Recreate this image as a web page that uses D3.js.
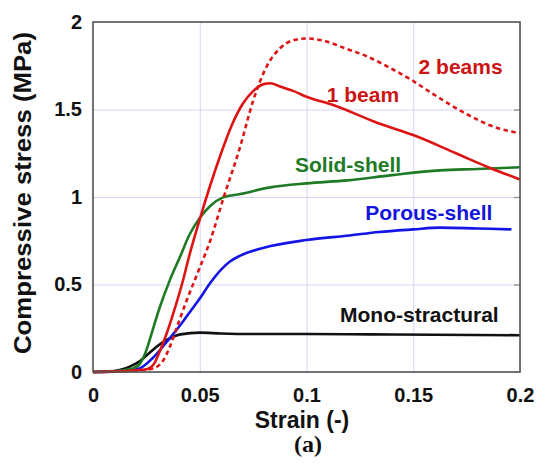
<!DOCTYPE html>
<html>
<head>
<meta charset="utf-8">
<script src="https://cdn.jsdelivr.net/npm/d3@7"></script>
<style>
  body { margin: 0; background: #fff; }
  svg { display: block; }
</style>
</head>
<body>
<svg id="plotCanvas" width="536" height="463"></svg>
<script>
// strain / stress readings for each curve
var monoStrain  = [0, 0.01, 0.0142, 0.018, 0.022, 0.025, 0.028, 0.0345, 0.041, 0.05, 0.06, 0.075, 0.1, 0.13, 0.16, 0.2];
var monoStress  = [0, 0.006, 0.017, 0.035, 0.062, 0.094, 0.126, 0.183, 0.215, 0.225, 0.22, 0.217, 0.217, 0.215, 0.213, 0.21];

var solidStrain = [0, 0.01, 0.017, 0.019, 0.0205, 0.022, 0.0235, 0.025, 0.0267, 0.031, 0.036, 0.041, 0.045, 0.05, 0.055, 0.061, 0.069, 0.083, 0.1, 0.119, 0.14, 0.1625, 0.18, 0.2];
var solidStress = [0, 0.004, 0.015, 0.022, 0.032, 0.048, 0.08, 0.125, 0.19, 0.36, 0.525, 0.665, 0.78, 0.88, 0.95, 0.998, 1.017, 1.055, 1.078, 1.095, 1.125, 1.152, 1.16, 1.17];

var porousStrain = [0, 0.01, 0.017, 0.022, 0.028, 0.036, 0.041, 0.044, 0.05, 0.055, 0.06, 0.064, 0.069, 0.08, 0.1, 0.12, 0.134, 0.15, 0.1625, 0.18, 0.196];
var porousStress = [0, 0.003, 0.012, 0.022, 0.08, 0.194, 0.27, 0.32, 0.42, 0.51, 0.585, 0.63, 0.665, 0.71, 0.754, 0.78, 0.80, 0.815, 0.825, 0.82, 0.815];

var beam1Strain = [0, 0.01, 0.02, 0.025, 0.0267, 0.028, 0.029, 0.031, 0.0345, 0.0376, 0.0423, 0.045, 0.05, 0.055, 0.06, 0.065, 0.07, 0.075, 0.08, 0.083, 0.088, 0.094, 0.1, 0.1125, 0.134, 0.15, 0.17, 0.186, 0.2];
var beam1Stress = [0, 0.002, 0.01, 0.016, 0.024, 0.038, 0.055, 0.11, 0.22, 0.335, 0.53, 0.66, 0.872, 1.07, 1.25, 1.41, 1.53, 1.605, 1.645, 1.65, 1.63, 1.605, 1.573, 1.526, 1.42, 1.354, 1.25, 1.166, 1.10];

var beam2Strain = [0, 0.01, 0.02, 0.028, 0.033, 0.036, 0.04, 0.0439, 0.0486, 0.055, 0.061, 0.069, 0.075, 0.0813, 0.0876, 0.094, 0.1, 0.109, 0.118, 0.129, 0.138, 0.149, 0.16, 0.1756, 0.188, 0.2];
var beam2Stress = [0, 0.002, 0.006, 0.02, 0.068, 0.145, 0.28, 0.41, 0.554, 0.754, 0.99, 1.29, 1.55, 1.745, 1.85, 1.897, 1.906, 1.89, 1.85, 1.80, 1.745, 1.67, 1.583, 1.47, 1.40, 1.364];

var xTicks = [0, 0.05, 0.1, 0.15, 0.2];
var yTicks = [0, 0.5, 1, 1.5, 2];
var xTickLabels = ["0", "0.05", "0.1", "0.15", "0.2"];
var yTickLabels = ["0", "0.5", "1", "1.5", "2"];

var seriesNames = ["Mono-stractural", "Porous-shell", "Solid-shell", "1 beam", "2 beams"];

var canvas = d3.select("#plotCanvas");

//plot area
var plotLeft = 93, plotTop = 22, plotRight = 520, plotBottom = 372;

var x = d3.scaleLinear().domain([0, 0.2]).range([plotLeft, plotRight]);
var y = d3.scaleLinear().domain([0, 2]).range([plotBottom, plotTop]);

var fontFamily = "'Liberation Sans', Arial, Helvetica, sans-serif";

//grid lines
canvas.append("g")
    .attr("transform", "translate(0," + plotBottom + ")")
    .call(d3.axisBottom(x).tickValues(xTicks).tickSize(-(plotBottom - plotTop)).tickFormat(""))
    .call(function(g) { g.select(".domain").remove(); })
    .selectAll("line").attr("stroke", "#d4d4f6").attr("stroke-width", 1);

canvas.append("g")
    .attr("transform", "translate(" + plotLeft + ",0)")
    .call(d3.axisLeft(y).tickValues(yTicks).tickSize(-(plotRight - plotLeft)).tickFormat(""))
    .call(function(g) { g.select(".domain").remove(); })
    .selectAll("line").attr("stroke", "#d4d4f6").attr("stroke-width", 1);

//small inward ticks on the right edge
canvas.append("g")
    .attr("transform", "translate(" + plotRight + ",0)")
    .call(d3.axisRight(y).tickValues(yTicks.slice(1, 4)).tickSize(-6).tickFormat(""))
    .call(function(g) { g.select(".domain").remove(); })
    .selectAll("line").attr("stroke", "#888").attr("stroke-width", 1.2);

//tick labels
var xAxis = canvas.append("g")
    .attr("transform", "translate(0," + plotBottom + ")")
    .call(d3.axisBottom(x).tickValues(xTicks).tickSize(0).tickPadding(16)
        .tickFormat(function(d, i) { return xTickLabels[i]; }));
xAxis.select(".domain").remove();
xAxis.selectAll("text")
    .attr("font-family", fontFamily)
    .attr("font-weight", "bold")
    .attr("font-size", "20px")
    .attr("fill", "#111");

var yAxis = canvas.append("g")
    .attr("transform", "translate(" + plotLeft + ",0)")
    .call(d3.axisLeft(y).tickValues(yTicks).tickSize(0).tickPadding(11)
        .tickFormat(function(d, i) { return yTickLabels[i]; }));
yAxis.select(".domain").remove();
yAxis.selectAll("text")
    .attr("font-family", fontFamily)
    .attr("font-weight", "bold")
    .attr("font-size", "20px")
    .attr("fill", "#111");

//curves
var line = d3.line()
    .x(function(d) { return x(d[0]); })
    .y(function(d) { return y(d[1]); })
    .curve(d3.curveMonotoneX);

function pairs(xs, ys) {
    return xs.map(function(v, i) { return [v, ys[i]]; });
}

var curves = [
    { data: pairs(monoStrain, monoStress), color: "#111111", dash: null },
    { data: pairs(porousStrain, porousStress), color: "#1414e6", dash: null },
    { data: pairs(solidStrain, solidStress), color: "#1e7a24", dash: null },
    { data: pairs(beam1Strain, beam1Stress), color: "#dd1414", dash: null },
    { data: pairs(beam2Strain, beam2Stress), color: "#dd1414", dash: "4.5,3.5" }
];

curves.forEach(function(c) {
    canvas.append("path")
        .datum(c.data)
        .attr("d", line)
        .attr("fill", "none")
        .attr("stroke", c.color)
        .attr("stroke-width", 2.6)
        .attr("stroke-dasharray", c.dash)
        .attr("stroke-linejoin", "round");
});

//frame
canvas.append("rect")
    .attr("x", plotLeft)
    .attr("y", plotTop)
    .attr("width", plotRight - plotLeft)
    .attr("height", plotBottom - plotTop)
    .attr("fill", "none")
    .attr("stroke", "#555")
    .attr("stroke-width", 1.6);

//curve labels
var labels = [
    { text: seriesNames[4], lx: 0.1525, ly: 1.703, color: "#cc1414" },
    { text: seriesNames[3], lx: 0.1095, ly: 1.543, color: "#cc1414" },
    { text: seriesNames[2], lx: 0.0946, ly: 1.143, color: "#1e7a24" },
    { text: seriesNames[1], lx: 0.1275, ly: 0.869, color: "#1414dd" },
    { text: seriesNames[0], lx: 0.1157, ly: 0.286, color: "#111111" }
];

labels.forEach(function(l) {
    canvas.append("text")
        .attr("x", x(l.lx))
        .attr("y", y(l.ly))
        .attr("fill", l.color)
        .attr("font-family", fontFamily)
        .attr("font-weight", "bold")
        .attr("font-size", "21px")
        .text(l.text);
});

//axis titles
canvas.append("text")
    .attr("x", 302)
    .attr("y", 428)
    .attr("text-anchor", "middle")
    .attr("font-family", fontFamily)
    .attr("font-weight", "bold")
    .attr("font-size", "23px")
    .attr("fill", "#111")
    .text("Strain (-)");

canvas.append("text")
    .attr("transform", "translate(23,193) rotate(-90)")
    .attr("text-anchor", "middle")
    .attr("dominant-baseline", "central")
    .attr("font-family", fontFamily)
    .attr("font-weight", "bold")
    .attr("font-size", "23px")
    .attr("textLength", 322)
    .attr("lengthAdjust", "spacingAndGlyphs")
    .attr("fill", "#111")
    .text("Compressive stress (MPa)");

canvas.append("text")
    .attr("x", 308)
    .attr("y", 452)
    .attr("text-anchor", "middle")
    .attr("font-family", "'Liberation Serif', 'Times New Roman', serif")
    .attr("font-weight", "bold")
    .attr("font-size", "24px")
    .attr("fill", "#111")
    .text("(a)");
</script>
</body>
</html>
